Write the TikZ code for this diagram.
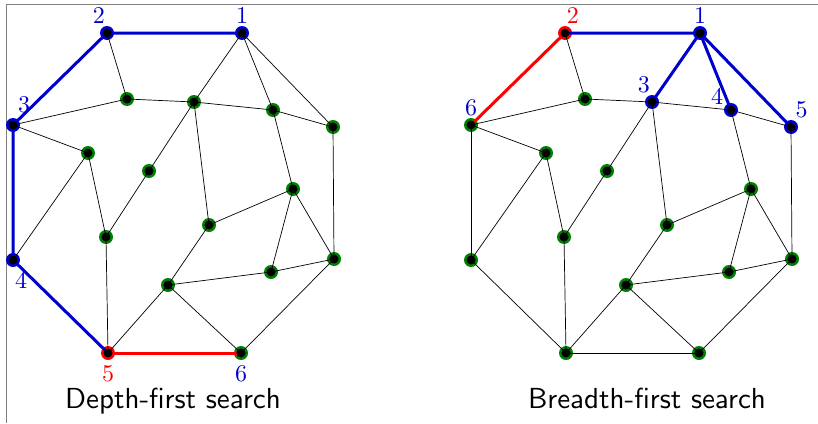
\documentclass[tikz,border=0pt]{standalone}
\usepackage{fontspec}
\usetikzlibrary{positioning}
\newfontfamily\numfont{lmroman10-regular.otf}
\newfontfamily\capfont{lmsans10-regular.otf}

\definecolor{vblue}{RGB}{0,0,205}
\definecolor{vgreen}{RGB}{0,128,0}
\definecolor{vred}{RGB}{255,0,0}

% vertices of the graph: name/x/y
\newcommand{\vertexlist}{n1/242/33, n2/107/33, n3/13/125, n4/13/260, n5/108/353, n6/241/353,
  a/127/99, b/194/102, c/273/110, d/333/127, e/88/153, f/149/171,
  g/293/189, h/209/225, i/106/237, j/334/259, k/271/272, l/168/285}
% edges of the graph
\newcommand{\edgelist}{n1/n2, n2/n3, n3/n4, n4/n5, n5/n6, n1/b, n1/c, n1/d, n2/a, n3/a, n3/e,
  a/b, b/c, c/d, b/f, f/i, b/h, e/n4, e/i, i/n5, n5/l, l/h, l/k, l/n6,
  h/g, c/g, g/k, g/j, d/j, j/n6, j/k}

\begin{document}
\begin{tikzpicture}[x=1pt, y=-1pt,
  vtx/.style={circle, inner sep=0pt, minimum size=14pt, fill=vgreen},
  dot/.style={fill=black},
  edge/.style={line width=0.7pt},
  tree/.style={line width=3pt, vblue},
  num/.style={text=vblue, font=\fontsize{24}{24}\numfont, inner sep=1pt, label distance=1pt},
  caption/.style={font=\fontsize{29}{30}\capfont, anchor=base}]
\useasboundingbox (0,0) rectangle (818,423);
\draw[gray, line width=0.8pt] (6.3,423) -- (6.3,4.6) -- (818,4.6);

% depth-first search
\begin{scope}[name prefix=L-,
  col n1/.style={fill=vblue, label={[num]90:1}},
  col n2/.style={fill=vblue, label={[num]96:2}},
  col n3/.style={fill=vblue, label={[num, label distance=4pt]70:3}},
  col n4/.style={fill=vblue, label={[num, label distance=4pt]-85:4}},
  col n5/.style={fill=vred, label={[num, text=vred, label distance=4pt]-90:5}},
  col n6/.style={label={[num, label distance=4pt]-90:6}}]
  \foreach \n/\x/\y in \vertexlist
    \node[vtx, col \n/.try] (\n) at (\x,\y) {};
  \foreach \s/\t in \edgelist
    \draw[edge] (\s.center) -- (\t.center);
  \draw[tree] (n1.center) -- (n2.center) -- (n3.center) -- (n4.center) -- (n5.center);
  \draw[tree, vred] (n5.center) -- (n6.center);
  \foreach \n/\x/\y in \vertexlist
    \fill[dot] (\n.center) circle (4.5pt);
  \node[caption] (cap) at (173,408) {Depth-first search};
\end{scope}

% breadth-first search
\begin{scope}[shift={(458,0)}, name prefix=R-,
  col n1/.style={fill=vblue, label={[num]90:1}},
  col n2/.style={fill=vred, label={[num, text=vred]85:2}},
  col b/.style={fill=vblue, label={[num]97:3}},
  col c/.style={fill=vblue, label={[num]145:4}},
  col d/.style={fill=vblue, label={[num]65:5}},
  col n3/.style={label={[num]90:6}}]
  \foreach \n/\x/\y in \vertexlist
    \node[vtx, col \n/.try] (\n) at (\x,\y) {};
  \foreach \s/\t in \edgelist
    \draw[edge] (\s.center) -- (\t.center);
  \draw[tree] (n2.center) -- (n1.center) -- (b.center);
  \draw[tree] (n1.center) -- (c.center);
  \draw[tree] (n1.center) -- (d.center);
  \draw[tree, vred] (n2.center) -- (n3.center);
  \foreach \n/\x/\y in \vertexlist
    \fill[dot] (\n.center) circle (4.5pt);
  \node[caption] (cap) at (189,408) {Breadth-first search};
\end{scope}
\end{tikzpicture}
\end{document}
